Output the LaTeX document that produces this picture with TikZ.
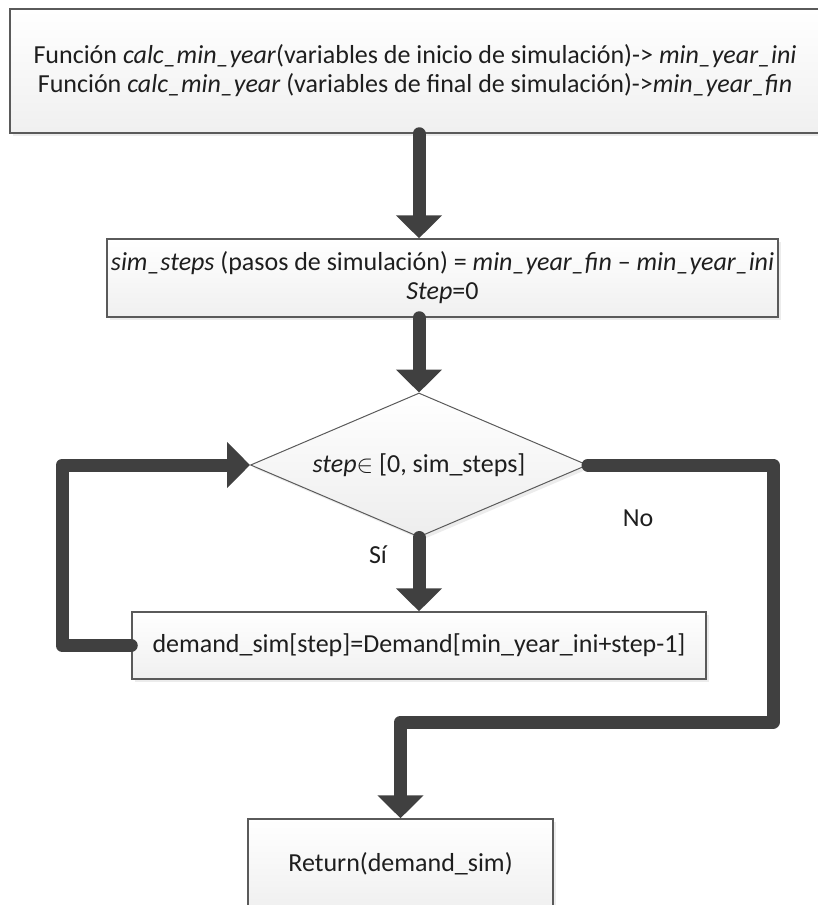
\documentclass[tikz,border=0pt]{standalone}
\usepackage{fontspec}
\setmainfont{Carlito}
\usetikzlibrary{shapes.geometric,arrows.meta,shadows}
\definecolor{flowgray}{HTML}{404040}
\definecolor{boxline}{HTML}{5A5A5A}
\definecolor{inkgray}{HTML}{1E1E1E}
\tikzset{
  box/.style={draw=boxline,line width=1.5pt,top color=white,bottom color=gray!12,
    drop shadow={shadow xshift=3pt,shadow yshift=-3pt,opacity=.15},inner sep=0pt,align=center},
  decision/.style={diamond,draw=boxline,line width=1pt,top color=white,bottom color=gray!14,
    drop shadow={shadow xshift=3pt,shadow yshift=-3pt,opacity=.15},inner sep=0pt,aspect=2.34},
  flow/.style={draw=flowgray,line width=13pt,line cap=round,line join=round,-{Triangle[width=45pt,length=23pt]}}
}
\begin{document}
\begin{tikzpicture}[x=1pt,y=-1pt,every node/.style={font=\fontsize{26}{29}\selectfont,text=inkgray}]
\useasboundingbox (0,0) rectangle (818,905);
\node[box,minimum width=810,minimum height=124] (ini) at (415,71)
  {Función \textit{calc\_min\_year}(variables de inicio de simulación)-> \textit{min\_year\_ini}\\
   Función \textit{calc\_min\_year} (variables de final de simulación)->\textit{min\_year\_fin}};
\node[box,minimum width=671,minimum height=78] (steps) at (442.5,278)
  {\textit{sim\_steps} (pasos de simulación) = \textit{min\_year\_fin} -- \textit{min\_year\_ini}\\
   \textit{Step}=0};
\node[decision,minimum width=337,minimum height=144] (cond) at (419,465)
  {\textit{step}$\in$ [0, sim\_steps]};
\node[box,minimum width=574,minimum height=67] (calc) at (419,645.5)
  {demand\_sim[step]=Demand[min\_year\_ini+step-1]};
\node[box,minimum width=305,minimum height=90] (ret) at (400.5,864)
  {Return(demand\_sim)};
\node (yes) at (378,555) {Sí};
\node (no) at (638,518) {No};
\coordinate (loopL) at (62,465);
\coordinate (noR) at (773,722);
\draw[flow] (ini.south -| cond.north) -- (steps.north -| cond.north);
\draw[flow] (steps.south -| cond.north) -- (cond.north);
\draw[flow] (cond.south) -- (calc.north);
\draw[flow] (calc.west) -| (loopL) -- (cond.west);
\draw[flow] (cond.east) -| (noR) -| (ret.north);
\end{tikzpicture}
\end{document}
